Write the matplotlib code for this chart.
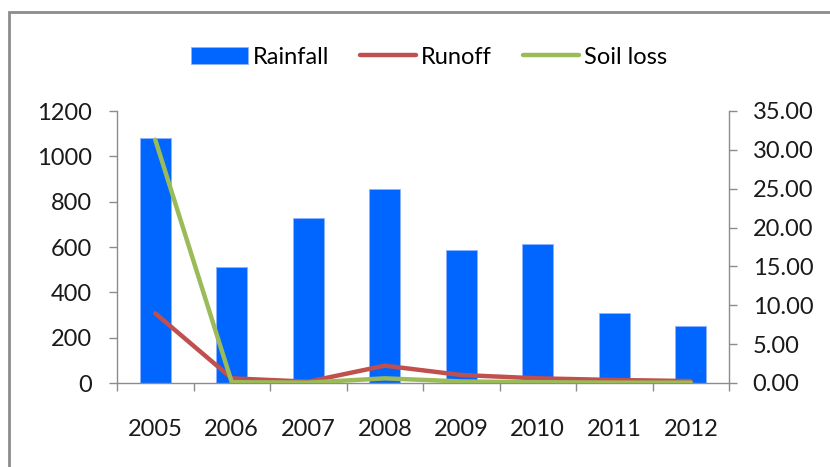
import numpy as np
import matplotlib
matplotlib.use('Agg')
from matplotlib import pyplot as plt
from matplotlib.patches import Rectangle

years = ['2005', '2006', '2007', '2008', '2009', '2010', '2011', '2012']
rainfall = [1082, 512, 726, 856, 588, 612, 310, 250]
runoff = [8.97, 0.6, 0.17, 2.23, 1.03, 0.6, 0.39, 0.25]
soil_loss = [31.3, 0.1, 0.05, 0.6, 0.2, 0.1, 0.05, 0.05]

plt.rcParams['font.family'] = ['Lato', 'DejaVu Sans']
GRAY = '#8c8c8c'
FS = 17

fig = plt.figure(figsize=(8.3, 4.67), dpi=100)
ax = fig.add_axes([117/830, 1-383/467, 612/830, 272/467])
ax2 = ax.twinx()

x = np.arange(len(years))
bars = ax.bar(x, rainfall, width=0.4, color='#0066ff', edgecolor='#8fb3ff', lw=0.6, label='Rainfall')
l1, = ax2.plot(x, runoff, color='#c0504d', lw=3.2, solid_capstyle='round', label='Runoff')
l2, = ax2.plot(x, soil_loss, color='#9bbb59', lw=3.2, solid_capstyle='round', label='Soil loss')

ax.set_xlim(-0.5, 7.5)
ax.set_ylim(0, 1200)
ax.set_yticks(range(0, 1201, 200))
ax2.set_ylim(0, 35)
ax2.set_yticks(np.arange(0, 36, 5))
ax2.set_yticklabels([f'{v:.2f}' for v in np.arange(0, 36, 5)])

ax.set_xticks(x)
ax.set_xticklabels(years)
ax.set_xticks(np.arange(-0.5, 8, 1), minor=True)
ax.tick_params(axis='x', which='major', length=0, pad=26, labelsize=FS, colors='#1a1a1a')
ax.tick_params(axis='x', which='minor', length=6, width=1, color=GRAY)
ax.tick_params(axis='y', length=6, width=1, color=GRAY, pad=12, labelsize=FS, labelcolor='#1a1a1a')
ax2.tick_params(axis='y', length=6, width=1, color=GRAY, pad=11, labelsize=FS, labelcolor='#1a1a1a')

for a in (ax, ax2):
    for s in a.spines.values():
        s.set_color(GRAY)
        s.set_linewidth(1)
    a.spines['top'].set_visible(False)
ax.spines['right'].set_visible(False)
ax2.spines['left'].set_visible(False)
ax2.spines['bottom'].set_visible(False)

fig.legend([bars, l1, l2], ['Rainfall', 'Runoff', 'Soil loss'], loc='center',
           bbox_to_anchor=(0.517, 1-57/467), ncol=3, frameon=False, fontsize=FS,
           handlelength=2.4, handletextpad=0.2, columnspacing=1.3)

# outer chart border (left and top edges visible)
fig.patches.append(Rectangle((9/830, -0.05), 1.0, 1.05-12/467, transform=fig.transFigure,
                             fill=False, edgecolor=GRAY, lw=2))

fig.savefig('out.png', dpi=100)
